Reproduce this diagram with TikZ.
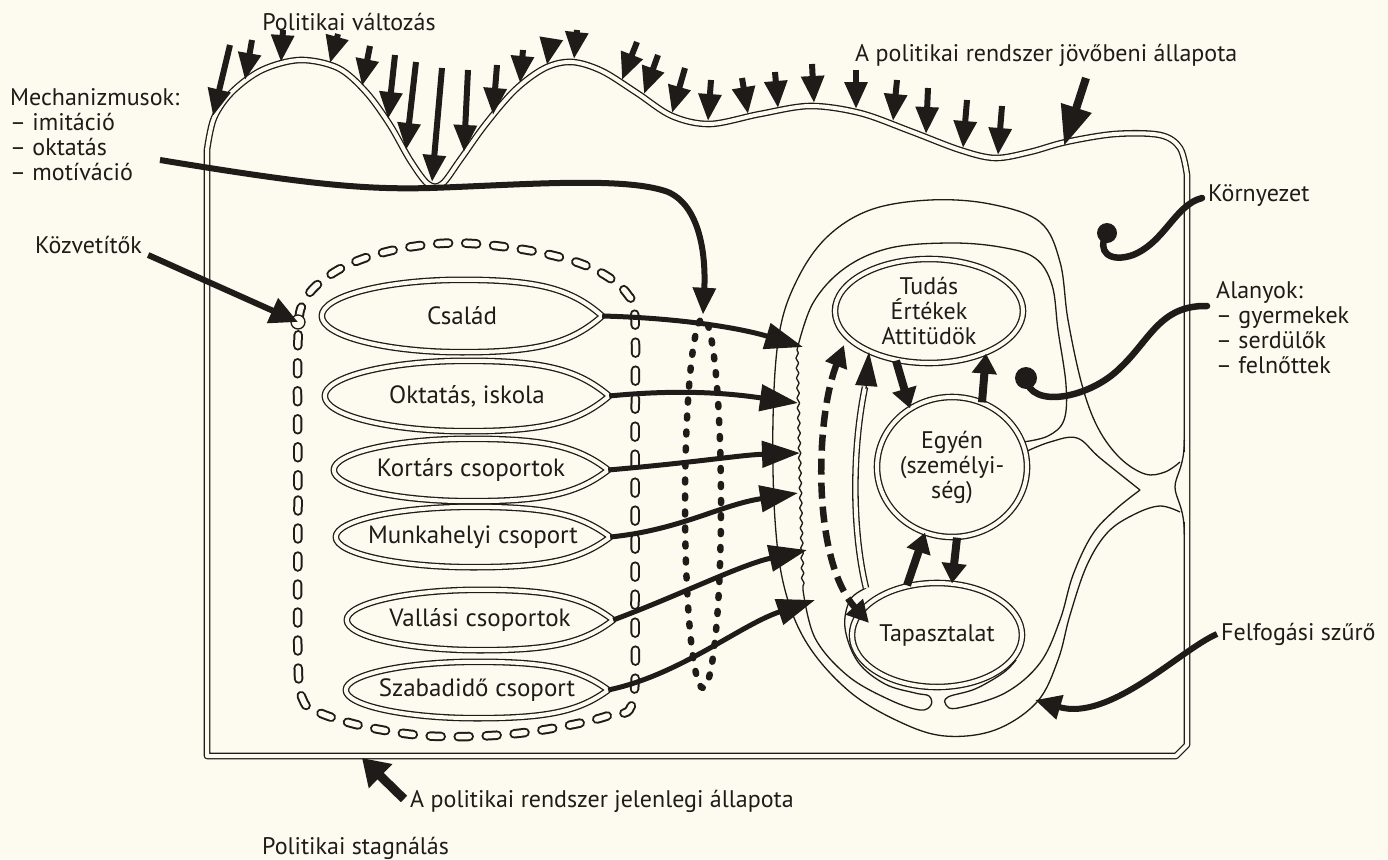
\documentclass[tikz,border=0pt]{standalone}
\usepackage{fontspec}
\setmainfont{PT Sans}
\usetikzlibrary{calc,shapes,arrows.meta,decorations.pathmorphing}
\definecolor{paper}{RGB}{253,251,239}
\definecolor{ink}{RGB}{30,27,24}
\newcommand{\lbl}{\fontsize{24}{25}\selectfont}
\tikzset{
   wall/.style={draw=ink, line width=1.3pt, line join=round},
   dbl/.style={draw=ink, line width=1.3pt, double=paper, double distance=4pt, line join=round},
   oval/.style={ellipse, dbl, inner sep=0pt, align=center, font=\lbl, text=ink},
   grp/.style={rectangle, inner sep=0pt, font=\fontsize{25}{26}\selectfont, text=ink},
   txt/.style={inner sep=0pt, font=\lbl, text=ink, align=left},
   push/.style={draw=ink, line width=6pt, ->},
   flow/.style={draw=ink, line width=5pt, -{Triangle[length=38pt,width=26pt]}},
   heavy/.style={draw=ink, line width=8pt, -{Triangle[length=20pt,width=24pt]}},
   lead/.style={draw=ink, line width=6.5pt, line cap=round},
   hollow dash/.style={draw=paper, line width=5.5pt, line cap=round, dash pattern=on 11pt off 17pt,
      preaction={draw=ink, line width=9.5pt, line cap=round, dash pattern=on 11pt off 17pt}},
   dot loop/.style={draw=ink, line width=6.5pt, line cap=round, dash pattern=on 3pt off 13pt},
}
% teardrop shaped group: name, x, y, half width, half height, text
\newcommand{\group}[6]{%
  \node[grp, minimum width=2*#4, minimum height=2*#5] (#1) at (#2,#3) {#6};
  \draw[dbl] (#1.east) .. controls +(-0.22*#4,-0.75*#5) and +(0.55*#4,0) .. (#1.north)
     .. controls +(-0.55*#4,0) and +(0,-0.55*#5) .. (#1.west)
     .. controls +(0,0.55*#5) and +(-0.55*#4,0) .. (#1.south)
     .. controls +(0.55*#4,0) and +(-0.22*#4,0.75*#5) .. (#1.east) -- cycle;
}

\begin{document}
\begin{tikzpicture}[x=1pt,y=-1pt,>={Triangle[length=27pt,width=22pt]}]
\fill[paper] (0,0) rectangle (1388,859);
\useasboundingbox (0,0) rectangle (1388,859);
% political system
\draw[dbl] (207,756) -- plot[smooth,tension=0.55] coordinates {(207,150) (214,118) (232,92) (262,70) (300,60) (338,68) (366,92) (390,125) (410,160) (428,184) (442,184) (460,160) (485,125) (515,90) (545,68) (572,62) (602,71) (637,93) (672,116) (710,124) (760,114) (810,106) (860,113) (910,131) (960,150) (995,158) (1030,152) (1066,142) (1115,134) (1160,135) (1180,148) (1187,175)}
  -- (1187,745) -- (1176,756) -- cycle;
\draw[paper, line width=2pt] (1184.35,452) -- (1184.35,522);
\draw[wall] (1184.35,440) .. controls (1184.35,468) and (1175,476) .. (1175,487) .. controls (1175,498) and (1184.35,506) .. (1184.35,534);
%
% perception filter
\draw[wall] plot[smooth,tension=0.6] coordinates {(1180,462) (1165,472) (1145,474) (1120,458) (1098,428) (1082,385) (1068,320) (1060,262) (1040,222) (990,204) (930,200) (870,210) (826,238) (796,282) (779,335) (773,420) (775,520) (785,590) (808,645) (850,692) (900,722) (945,736) (995,730) (1037,702) (1058,660) (1070,615) (1087,565) (1108,532) (1135,514) (1160,506) (1180,512)};
\draw[wall] plot[smooth,tension=0.6] coordinates {(1023,442) (1048,436) (1064,420) (1066,385) (1058,330) (1052,285) (1035,258) (1000,247) (950,243) (890,248) (845,268) (813,303) (797,350)};
\draw[wall, decorate, decoration={snake, amplitude=1.3pt, segment length=10pt}] (797,350) -- (803,590);
\draw[wall] plot[smooth,tension=0.6] coordinates {(803,590) (815,638) (848,676) (890,700) (920,710) (931,705) (929,696) (915,693) (885,684) (858,662) (845,628) (850,600) (866,588)};
\draw[wall] plot[smooth,tension=0.6] coordinates {(1025,452) (1050,442) (1077,438) (1100,458) (1140,490)};
\draw[wall] plot[smooth,tension=0.6] coordinates {(1140,490) (1115,510) (1092,535) (1073,575) (1060,620) (1040,663) (1005,693) (958,708) (946,705) (948,697) (975,689) (1003,673) (1016,660)};
%
\node[oval, minimum width=188, minimum height=104] (tudas) at (929,311) {Tudás\\Értékek\\Attitüdök};
\node[oval, minimum width=150, minimum height=140] (egyen) at (952,467) {Egyén\\(személyi-\\ség)};
\node[oval, minimum width=170, minimum height=104] (tap) at (937,635) {Tapasztalat};
%
\coordinate (hlbase) at ($(tudas.center)+(-64,76)$);
\coordinate (hltip) at ($(tudas.center)+(-60,41)$);
\draw[dbl] (866,588) .. controls (852,530) and (852,450) .. (hlbase);
\draw[wall, -{Triangle[length=34pt,width=22pt]}] ($(hlbase)+(1,2)$) -- (hltip);
\draw[heavy] ($(tudas.south)+(-33,-3)$) -- ($(egyen.north)+(-42,12)$);
\draw[heavy] ($(egyen.north)+(30,6)$) -- ($(tudas.south)+(57,-10)$);
\draw[heavy] ($(egyen.south)+(5,0)$) -- ($(tap.north)+(15,1)$);
\draw[heavy] ($(tap.north)+(-30,3)$) -- ($(egyen.south)+(-27,-5)$);
\draw[draw=ink, line width=6.5pt, dash pattern=on 16pt off 8pt, {Triangle[length=22pt,width=22pt]}-{Triangle[length=22pt,width=22pt]}]
  ($(tudas.center)+(-85,34)$) .. controls (815,420) and (812,560) .. ($(tap.center)+(-68,-12)$);
%
% mediators
\draw[hollow dash] plot[smooth cycle,tension=0.6] coordinates {(298,340) (298,500) (298,660) (303,700) (320,713) (367,727) (430,736) (500,735) (560,727) (610,715) (633,700) (635,600) (635,450) (635,320) (628,295) (605,275) (570,260) (520,249) (460,243) (410,247) (365,258) (330,275) (305,300)};
\coordinate (blob) at (298,322);
\draw[wall, fill=paper] (blob) circle (7);
\node[ellipse, dot loop, minimum width=36, minimum height=370, inner sep=0pt] (channel) at (703,503) {};
%
\group{csalad}{462}{316}{140}{36}{Család}
\group{oktatas}{467}{396}{142}{35}{Oktatás, iskola}
\group{kortars}{471}{470}{137}{31}{Kortárs csoportok}
\group{munka}{473}{537}{137}{30}{Munkahelyi csoport}
\group{vallas}{480}{620}{133}{30}{Vallási csoportok}
\group{szabad}{477}{690}{131}{28}{Szabadidő csoport}
%
\coordinate (f1) at (803,347);
\coordinate (f2) at (798,403);
\coordinate (f3) at (800,453);
\coordinate (f4) at (798,493);
\coordinate (f5) at (807,550);
\coordinate (f6) at (815,600);
\draw[flow] (csalad.east) .. controls (680,318) and (740,328) .. (f1);
\draw[flow] (oktatas.east) .. controls (690,388) and (740,395) .. (f2);
\draw[flow] (kortars.east) .. controls (700,462) and (740,455) .. (f3);
\draw[flow] (munka.east) .. controls (680,530) and (720,505) .. (f4);
\draw[flow] (vallas.east) .. controls (680,595) and (740,565) .. (f5);
\draw[flow] (szabad.east) .. controls (680,675) and (740,625) .. (f6);
%
% labels
\node[txt] (polchange) at (349,22) {Politikai változás};
\node[txt, anchor=west] (future) at (855,55) {A politikai rendszer jövőbeni állapota};
\node[txt, anchor=north west] (mech) at (10,88) {Mechanizmusok:\\– imitáció\\– oktatás\\– motíváció};
\node[txt, anchor=west] (kozv) at (35,245) {Közvetítők};
\node[txt, anchor=west] (korny) at (1208,196) {Környezet};
\node[txt, anchor=north west] (alany) at (1216,281) {Alanyok:\\– gyermekek\\– serdülők\\– felnőttek};
\node[txt, anchor=west] (felf) at (1221,634) {Felfogási szűrő};
\node[txt, anchor=west] (present) at (410,801) {A politikai rendszer jelenlegi állapota};
\node[txt, anchor=west] (stagn) at (262,848) {Politikai stagnálás};
%
% pressure of change
\foreach \xa/\ya/\xb/\yb in {230/45/213/116, 252/40/245/80, 283/30/281/62, 338/34/330/63, 370/46/362/86,
   395/55/388/119, 416/62/406/150, 442/68/432/182, 468/70/464/152, 497/65/493/115, 523/50/520/83,
   551/40/547/65, 577/30/574/59, 637/42/622/80, 658/55/644/94, 685/68/672/113, 711/80/708/121,
   742/78/748/114, 775/72/778/108, 812/64/814/103, 856/70/856/109, 897/80/893/121, 928/88/926/134,
   967/100/963/148, 1002/106/998/155}
  \draw[push] (\xa,\ya) -- (\xb,\yb);
\coordinate (futurefrom) at (1086,78);
\coordinate (futuretip) at (1064,146);
\draw[draw=ink, line width=8pt, -{Triangle[length=40pt,width=30pt]}] (futurefrom) -- (futuretip);
%
\coordinate (mechfrom) at (160,160);
\draw[push] (mechfrom) .. controls (300,183) and (360,190) .. (430,188) .. controls (520,185) and (625,176) .. (668,192) .. controls (700,206) and (706,255) .. (channel.north);
\draw[draw=ink, line width=6pt, -{Triangle[length=28pt,width=26pt]}] ($(kozv.east)+(6,10)$) -- (blob);
%
\coordinate (envdot) at (1107,233);
\draw[lead] ($(korny.west)+(-6,2)$) .. controls (1175,205) and (1165,242) .. (1133,255) .. controls (1110,263) and (1096,252) .. (envdot);
\fill[ink] (envdot) circle (10);
\coordinate (subjdot) at (1026,378);
\draw[lead] ($(alany.north west)+(-9,25)$) .. controls (1160,305) and (1150,340) .. (1120,368) .. controls (1090,398) and (1030,410) .. (subjdot);
\fill[ink] (subjdot) circle (11);
\coordinate (filtertip) at (1035,700);
\draw[draw=ink, line width=6pt, -{Triangle[length=26pt,width=24pt]}] ($(felf.west)+(-4,0)$) .. controls (1180,650) and (1110,722) .. (filtertip);
\coordinate (nowtip) at (362,758);
\draw[draw=ink, line width=9pt, -{Triangle[length=26pt,width=32pt]}] ($(present.west)+(-6,-2)$) -- (nowtip);
\end{tikzpicture}
\end{document}
